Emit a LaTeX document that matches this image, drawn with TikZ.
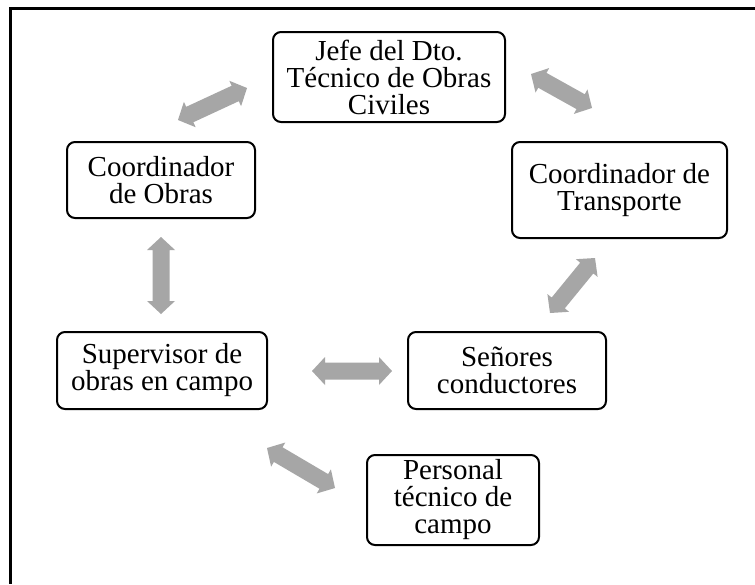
\documentclass[tikz,border=0pt]{standalone}
\usepackage{fontspec}
\setmainfont{Liberation Serif}
\usetikzlibrary{calc}
\definecolor{arrowgray}{RGB}{166,166,166}
\newcommand\blockarrow[2]{%
\fill[arrowgray] (#1)
 -- ($(#1)!13pt!(#2)!14pt!90:(#2)$)
 -- ($(#1)!13pt!(#2)!8.5pt!90:(#2)$)
 -- ($(#2)!13pt!(#1)!8.5pt!-90:(#1)$)
 -- ($(#2)!13pt!(#1)!14pt!-90:(#1)$)
 -- (#2)
 -- ($(#2)!13pt!(#1)!14pt!90:(#1)$)
 -- ($(#2)!13pt!(#1)!8.5pt!90:(#1)$)
 -- ($(#1)!13pt!(#2)!8.5pt!-90:(#2)$)
 -- ($(#1)!13pt!(#2)!14pt!-90:(#2)$)
 -- cycle;}
\begin{document}
\begin{tikzpicture}[x=1pt,y=-1pt,
  box/.style={draw=black,line width=2pt,rounded corners=8pt,align=center,inner sep=0pt,
    font=\fontsize{29}{27}\selectfont},
  frame/.style={draw=black,line width=2.5pt}]
\useasboundingbox (0,0) rectangle (755,584);
\fill[white] (0,0) rectangle (755,584);
\coordinate (fa) at (10.5,8.5);
\coordinate (fb) at (755,8.5);
\coordinate (fc) at (10.5,584);
\draw[frame] (fb) -- (fa) -- (fc);

\node[box,minimum width=232pt,minimum height=90pt] (jefe) at (389,77) {Jefe del Dto.\\Técnico de Obras\\Civiles};
\node[box,minimum width=188pt,minimum height=76pt] (cobras) at (161,180) {Coordinador\\de Obras};
\node[box,minimum width=215pt,minimum height=96pt] (ctrans) at (619.5,190) {Coordinador de\\Transporte};
\node[box,minimum width=210pt,minimum height=77pt] (superv) at (162,370.5) {Supervisor de\\obras en campo};
\node[box,minimum width=198pt,minimum height=77pt] (senores) at (507,370.5) {Señores\\conductores};
\node[box,minimum width=172pt,minimum height=90pt] (personal) at (453,500) {Personal\\técnico de\\campo};

\coordinate (a1s) at (178,120); \coordinate (a1e) at (247,88);
\coordinate (a2s) at (531,74);  \coordinate (a2e) at (592,108);
\coordinate (a3s) at (161,237); \coordinate (a3e) at (161,314);
\coordinate (a4s) at (595,258); \coordinate (a4e) at (550,313);
\coordinate (a5s) at (312,371); \coordinate (a5e) at (392,371);
\coordinate (a6s) at (267,448); \coordinate (a6e) at (335,488);
\blockarrow{a1s}{a1e}
\blockarrow{a2s}{a2e}
\blockarrow{a3s}{a3e}
\blockarrow{a4s}{a4e}
\blockarrow{a5s}{a5e}
\blockarrow{a6s}{a6e}
\end{tikzpicture}
\end{document}
